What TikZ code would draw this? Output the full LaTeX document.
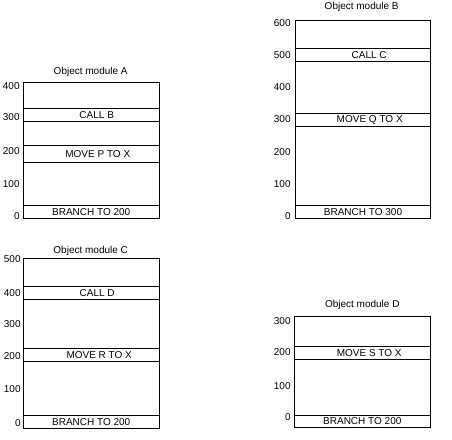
\documentclass[tikz,border=0pt]{standalone}
\usepackage{fontspec}
\setmainfont{Liberation Sans}
\usepackage{tikz}
\tikzset{txt/.style={font=\fontsize{10}{12}\selectfont,inner sep=0pt},
num/.style={txt,anchor=east}}

\begin{document}
\begin{tikzpicture}[x=1pt,y=-1pt,line width=0.8pt]
\useasboundingbox (0,0) rectangle (452,439);
% module A
\draw (90.7,72.3)node[txt](tA){Object module A};
\draw (23.3,82.7) rectangle (159.3,218.3)
(23.3,108.3)--(159.3,108.3)
(23.3,121.3)--(159.3,121.3)
(23.3,145.3)--(159.3,145.3)
(23.3,162.3)--(159.3,162.3)
(23.3,205.3)--(159.3,205.3)
(96.7,114.8)node[txt](callB){CALL B}
(97.8,153.8)node[txt](moveP){MOVE P TO X}
(91.2,211.8)node[txt](brA){BRANCH TO 200}
(20,85.7)node[num](a400){400}
(20,117.3)node[num](a300){300}
(20,151)node[num](a200){200}
(20,184.3)node[num](a100){100}
(20,216)node[num](a0){0}
;
% module B
\draw (361.7,6.7)node[txt](tB){Object module B};
\draw (295,20.7) rectangle (430.7,218.3)
(295,48.3)--(430.7,48.3)
(295,61.3)--(430.7,61.3)
(295,113.3)--(430.7,113.3)
(295,126.3)--(430.7,126.3)
(295,205.3)--(430.7,205.3)
(369.2,54.8)node[txt](callC){CALL C}
(369.7,119.8)node[txt](moveQ){MOVE Q TO X}
(363,211.8)node[txt](brB){BRANCH TO 300}
(291,22.7)node[num](b600){600}
(291,55)node[num](b500){500}
(291,87.3)node[num](b400){400}
(291,119.3)node[num](b300){300}
(291,151.7)node[num](b200){200}
(291,183.7)node[num](b100){100}
(291,216)node[num](b0){0}
;
% module C
\draw (90.7,250.7)node[txt](tC){Object module C};
\draw (23.3,258.3) rectangle (159.3,428.3)
(23.3,286.7)--(159.3,286.7)
(23.3,299.3)--(159.3,299.3)
(23.3,348.3)--(159.3,348.3)
(23.3,361.3)--(159.3,361.3)
(23.3,415.3)--(159.3,415.3)
(97.2,293)node[txt](callD){CALL D}
(99.2,354.8)node[txt](moveR){MOVE R TO X}
(91.2,421.8)node[txt](brC){BRANCH TO 200}
(21,259.3)node[num](c500){500}
(21,293.3)node[num](c400){400}
(21,324.3)node[num](c300){300}
(21,356)node[num](c200){200}
(21,389.3)node[num](c100){100}
(21,422.7)node[num](c0){0}
;
% module D
\draw (362.3,305)node[txt](tD){Object module D};
\draw (294.3,316) rectangle (430,427.3)
(294.3,346.7)--(430,346.7)
(294.3,359.3)--(430,359.3)
(294.3,415.3)--(430,415.3)
(369.2,353)node[txt](moveS){MOVE S TO X}
(362.3,421.3)node[txt](brD){BRANCH TO 200}
(291,321)node[num](d300){300}
(291,352.3)node[num](d200){200}
(291,385.7)node[num](d100){100}
(291,416.7)node[num](d0){0}
;
\end{tikzpicture}
\end{document}
